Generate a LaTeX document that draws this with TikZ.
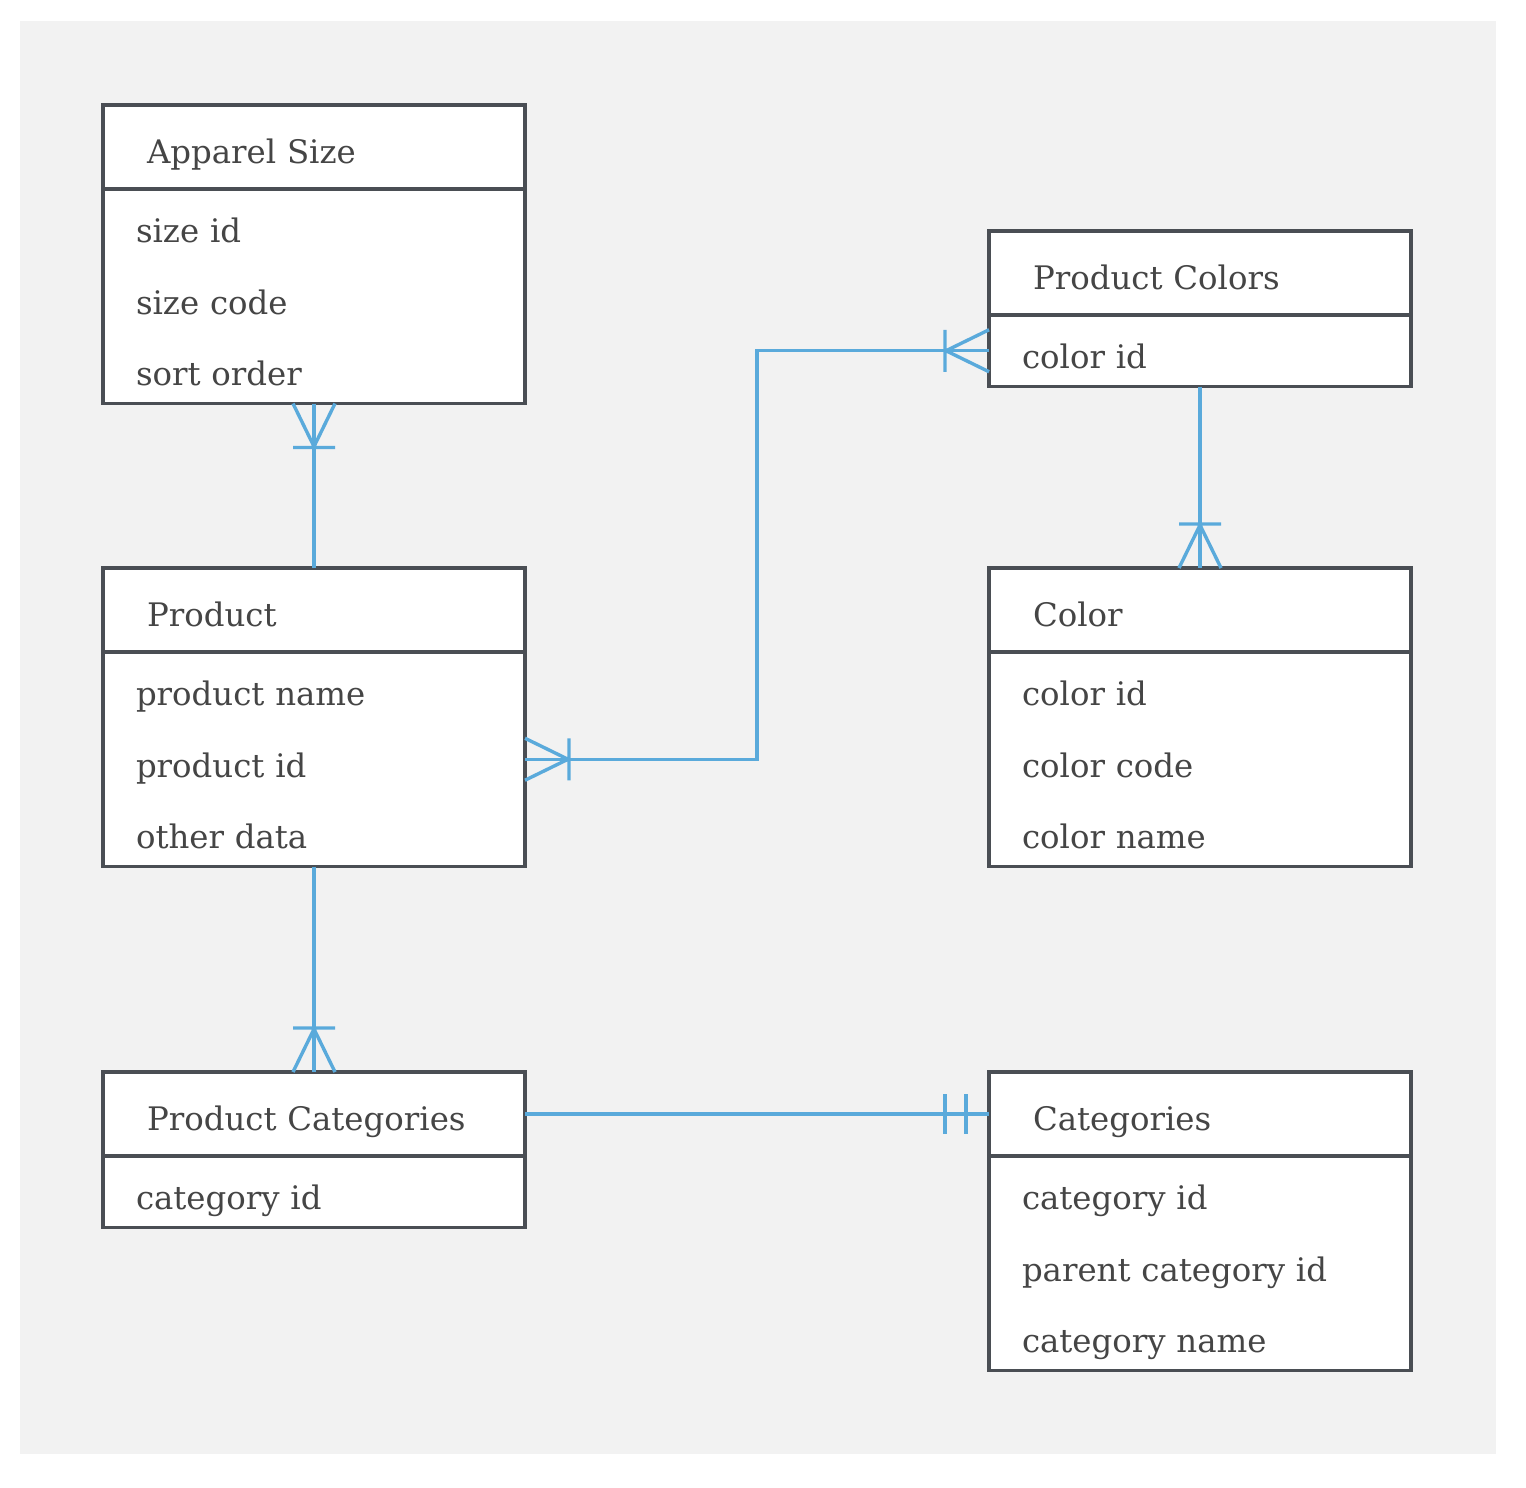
\documentclass[tikz,border=0pt]{standalone}
\usepackage{fontspec}
\setmainfont{DejaVu Serif}
\usetikzlibrary{positioning}
\definecolor{bggray}{HTML}{F2F2F2}
\definecolor{boxgray}{HTML}{4A4E54}
\definecolor{txtgray}{HTML}{454545}
\definecolor{linkblue}{HTML}{5AAADB}
\tikzset{head/.style={draw=boxgray, line width=1.9pt, fill=white, text=txtgray, anchor=north west,
    outer sep=0pt, inner ysep=0pt, inner xsep=22pt, text width=167pt, align=left,
    text height=29pt, text depth=13pt, font=\fontsize{16.2}{18}\selectfont},
  % #1 = number of rows
  body/.style={draw=boxgray, line width=1.9pt, fill=white, text=txtgray,
    outer sep=0pt, inner ysep=0pt, inner xsep=16.5pt, text width=178pt, align=left,
    text height=26.85pt, text depth=#1*35.75pt-26.85pt, font=\fontsize{16.2}{35.75}\selectfont},
  link/.style={draw=linkblue, line width=1.7pt},
  crowfoot/.pic={\draw[link] (-21,0) -- (0,43) -- (21,0) (-21,44) -- (21,44);},
  twobars/.pic={\draw[link] (-20,23) -- (20,23) (-20,44) -- (20,44);}}
\begin{document}
\begin{tikzpicture}[x=0.5pt,y=-0.5pt]

\useasboundingbox[fill=white] (0,0) rectangle (1526,1488);
\fill[bggray] (20,21) rectangle (1496,1454);

% left column
\node[head] (size) at (103,105) {Apparel Size};
\node[body=3, below=0pt of size] (size-b) {size id\\ size code\\ sort order};

\node[head] (prod) at (103,568) {Product};
\node[body=3, below=0pt of prod] (prod-b) {product name\\ product id\\ other data};

\node[head] (pcat) at (103,1072) {Product Categories};
\node[body=1, below=0pt of pcat] (pcat-b) {category id};

% right column
\node[head] (pcol) at (989,231) {Product Colors};
\node[body=1, below=0pt of pcol] (pcol-b) {color id};

\node[head] (color) at (989,568) {Color};
\node[body=3, below=0pt of color] (color-b) {color id\\ color code\\ color name};

\node[head] (cat) at (989,1072) {Categories};
\node[body=3, below=0pt of cat] (cat-b) {category id\\ parent category id\\ category name};

% relations
\draw[link] (size-b.south) -- (prod.north);
\draw[link] (prod-b.east) -- ++(232,0) |- (pcol-b.west);
\draw[link] (pcol-b.south) -- (color.north);
\draw[link] (prod-b.south) -- (pcat.north);
\draw[link] (pcat.east) -- (cat.west);

\pic at (size-b.south) {crowfoot};
\pic[rotate=90] at (prod-b.east) {crowfoot};
\pic[rotate=-90] at (pcol-b.west) {crowfoot};
\pic[rotate=180] at (color.north) {crowfoot};
\pic[rotate=180] at (pcat.north) {crowfoot};
\pic[rotate=-90] at (cat.west) {twobars};

\end{tikzpicture}
\end{document}
